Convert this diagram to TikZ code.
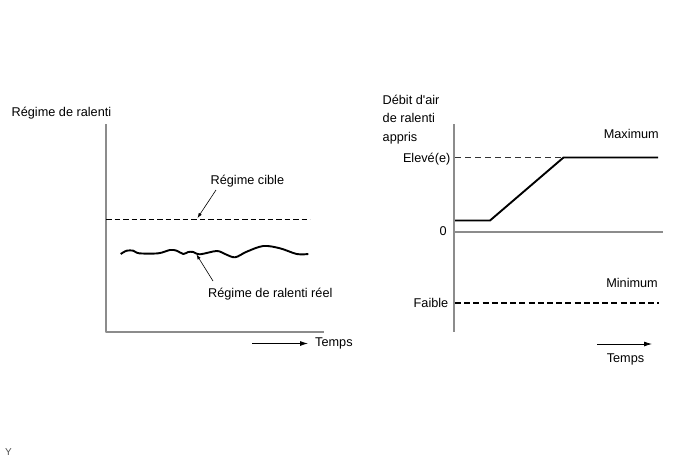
\documentclass[tikz,border=0pt]{standalone}
\usepackage{fontspec}
\setmainfont{Liberation Sans}
\usetikzlibrary{arrows.meta}

\begin{document}
\begin{tikzpicture}[x=1pt, y=-1pt, % picture units are the pixels of the figure, y downwards
                    line join=round, % keeps the bends of the curves clean
                    every node/.style = {inner sep=0pt, font=\fontsize{12.7}{15}\selectfont},
                    axisline/.style = {draw=black!45, line width=1.1pt},
                    curve/.style = {line width=1.9pt},
                    pointer/.style = {line width=0.6pt, -{Latex[length=5pt,width=3.5pt]}},
                    timearrow/.style = {line width=0.8pt, -{Latex[length=8pt,width=5pt]}}
                   ]
  \useasboundingbox (0,0) rectangle (688,463);

  % left chart
  \coordinate (lTop) at (106,124);
  \coordinate (lO) at (106,332);
  \coordinate (lEnd) at (324,332);
  \draw[axisline] (lTop) -- (lO) -- (lEnd);
  \node[anchor=base west] (yLeft) at (11.5,116) {Régime de ralenti};
  \coordinate (cibleA) at (106,219);
  \coordinate (cibleB) at (310,219);
  \draw[line width=0.9pt, dash pattern=on 5.5pt off 3pt] (cibleA) -- (cibleB);
  \node[anchor=base west] (cibleLbl) at (210.5,184.3) {Régime cible};
  \coordinate (cibleFrom) at (216,190);
  \coordinate (cibleTip) at (197.5,218);
  \draw[pointer] (cibleFrom) -- (cibleTip);
  \draw[curve] plot[smooth, tension=0.55] coordinates {
    (120.7,254) (126.7,250.7) (133.3,250.7) (139.3,253.3) (158.3,253.3) (170,250)
    (176.7,250.7) (183.3,254) (188.3,252) (193.3,252) (200,254.3) (216.7,251)
    (225,254) (235,257.3) (246.7,251.7) (263.3,246) (280,248.3) (296.7,254) (308.3,254)};
  \node[anchor=base west] (reelLbl) at (208,297) {Régime de ralenti réel};
  \coordinate (reelFrom) at (213,281);
  \coordinate (reelTip) at (196.5,254.5);
  \draw[pointer] (reelFrom) -- (reelTip);
  \coordinate (tempsA) at (252,343.5);
  \coordinate (tempsB) at (308,343.5);
  \draw[timearrow] (tempsA) -- (tempsB);
  \node[anchor=base west] (tempsL) at (315,346.5) {Temps};

  % right chart
  \coordinate (rTop) at (454,124);
  \coordinate (rBot) at (454,332);
  \draw[draw=black!45, line width=1.7pt] (rTop) -- (rBot);
  \coordinate (zeroA) at (454,232);
  \coordinate (zeroB) at (663,232);
  \draw[axisline] (zeroA) -- (zeroB);
  \node[anchor=base west] (debit1) at (382.5,104) {Débit d\textquotesingle air};
  \node[anchor=base west] (debit2) at (382.5,122.5) {de ralenti};
  \node[anchor=base west] (debit3) at (382.5,141) {appris};
  \node[anchor=base east] (maxLbl) at (659,138) {Maximum};
  \node[anchor=base east] (hautLbl) at (450.5,162) {Elevé(e)};
  \node[anchor=base east] (zeroLbl) at (447,235.5) {0};
  \node[anchor=base east] (minLbl) at (658,287) {Minimum};
  \node[anchor=base east] (basLbl) at (448.5,307) {Faible};
  \coordinate (hautA) at (455,157.5);
  \coordinate (bendB) at (563.5,157.5);
  \draw[line width=0.8pt, draw=black!80, dash pattern=on 6pt off 4pt] (hautA) -- (bendB);
  \coordinate (startA) at (455,220.5);
  \coordinate (bendA) at (490,220.5);
  \coordinate (endA) at (658,157.5);
  \draw[curve] (startA) -- (bendA) -- (bendB) -- (endA);
  \coordinate (basA) at (455,303.3);
  \coordinate (basB) at (658.5,303.3);
  \draw[line width=1.9pt, dash pattern=on 6pt off 3.2pt] (basA) -- (basB);
  \coordinate (tempsC) at (597,344);
  \coordinate (tempsD) at (652,344);
  \draw[timearrow] (tempsC) -- (tempsD);
  \node[anchor=base] (tempsR) at (625.5,362.5) {Temps};

  \node[anchor=base west, text=black!70, font=\fontsize{10}{12}\selectfont] (figY) at (5,455) {Y};
\end{tikzpicture}
\end{document}
